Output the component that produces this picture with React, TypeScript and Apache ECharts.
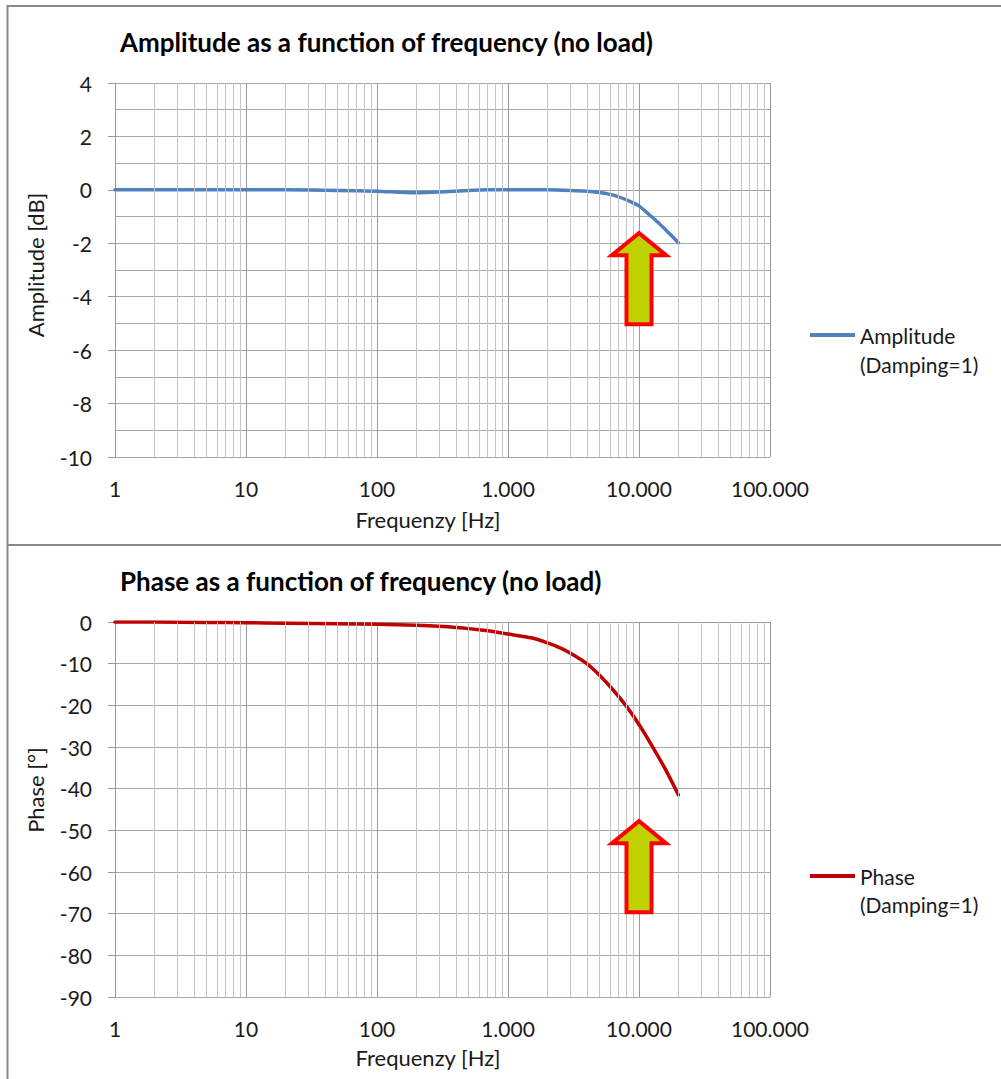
import React, { useEffect, useRef } from "react";
import * as echarts from "echarts";

const xTickLabels = ["1", "10", "100", "1.000", "10.000", "100.000"];
const ampFreq = [1, 2, 5, 10, 20, 50, 100, 150, 200, 300, 500, 700, 1000, 2000, 3000, 4000, 5000, 6000, 7000, 8000, 10000, 12000, 14000, 16000, 18000, 20000];
const ampValues = [0, 0, 0, 0, 0, -0.02, -0.05, -0.09, -0.11, -0.08, -0.02, 0, 0, 0, -0.02, -0.05, -0.1, -0.17, -0.26, -0.37, -0.6, -0.93, -1.22, -1.5, -1.75, -1.98];
const phaseFreq = [1, 2, 5, 10, 20, 50, 100, 200, 400, 700, 1000, 1500, 2000, 2500, 3000, 4000, 5000, 6300, 8000, 10000, 12500, 16000, 20000];
const phaseValues = [0, 0, -0.1, -0.15, -0.3, -0.4, -0.55, -0.8, -1.3, -2.1, -2.9, -3.8, -5, -6.2, -7.5, -10, -12.8, -16.2, -20.2, -24.6, -29.6, -35.5, -41.5];
const decades = [1, 10, 100, 1000, 10000];
const minorSteps = [2, 3, 4, 5, 6, 7, 8, 9];

const FONT = "Lato";
const TEXT = "#1a1a1a";
const BLUE = "#4F81BD";
const RED = "#C00000";
const LABEL_SIZE = 21;

export default function App() {
  const ref = useRef<HTMLDivElement>(null);
  useEffect(() => {
    if (!ref.current) return;
    const chart = echarts.init(ref.current, null, { renderer: "svg" });
    const minorLines: any[] = [];
    decades.forEach((d) => minorSteps.forEach((s) => minorLines.push({ xAxis: d * s })));

    const xAxisCommon = (gi: number) => ({
      type: "log",
      logBase: 10,
      gridIndex: gi,
      min: 1,
      max: 100000,
      axisLine: { show: true, lineStyle: { color: "#999999", width: 1 } },
      axisTick: { show: false },
      axisLabel: {
        margin: 21,
        fontFamily: FONT,
        fontSize: LABEL_SIZE,
        color: TEXT,
        formatter: (v: number) => xTickLabels[Math.round(Math.log10(v))] ?? "",
      },
      splitLine: { show: true, lineStyle: { color: "#999999", width: 1 } },
    });
    const yAxisCommon = (gi: number, min: number, max: number, interval: number, minor: boolean) => ({
      type: "value",
      gridIndex: gi,
      min,
      max,
      interval,
      axisLine: { show: true, lineStyle: { color: "#999999", width: 1 } },
      axisTick: { show: true, inside: false, length: 7, lineStyle: { color: "#999999" } },
      axisLabel: { margin: 23, fontFamily: FONT, fontSize: LABEL_SIZE, color: TEXT },
      splitLine: { show: true, lineStyle: { color: "#a8a8a8", width: 1 } },
      minorTick: { show: false, splitNumber: 2 },
      minorSplitLine: { show: minor, lineStyle: { color: "#a8a8a8", width: 1 } },
    });
    const gridSeries = (xi: number) => ({
      type: "line",
      xAxisIndex: xi,
      yAxisIndex: xi,
      data: [[1, 0]],
      showSymbol: false,
      silent: true,
      z: 1,
      lineStyle: { opacity: 0 },
      markLine: {
        silent: true,
        symbol: "none",
        label: { show: false },
        emphasis: { disabled: true },
        lineStyle: { color: "#c4c4c4", width: 1, type: "solid" },
        data: minorLines,
      },
    });

    chart.setOption({
      animation: false,
      backgroundColor: "#ffffff",
      title: [
        {
          text: "Amplitude as a function of frequency (no load)",
          left: 120,
          top: 29,
          padding: 0,
          textStyle: { fontFamily: FONT, fontSize: 26, fontWeight: "bold", color: "#000" },
        },
        {
          text: "Phase as a function of frequency (no load)",
          left: 120,
          top: 568,
          padding: 0,
          textStyle: { fontFamily: FONT, fontSize: 26, fontWeight: "bold", color: "#000" },
        },
      ],
      grid: [
        { left: 115, top: 83, width: 655, height: 374 },
        { left: 115, top: 622, width: 655, height: 375 },
      ],
      xAxis: [xAxisCommon(0), xAxisCommon(1)],
      yAxis: [yAxisCommon(0, -10, 4, 2, true), yAxisCommon(1, -90, 0, 10, false)],
      series: [
        gridSeries(0),
        gridSeries(1),
        {
          type: "line",
          name: "Amplitude (Damping=1)",
          xAxisIndex: 0,
          yAxisIndex: 0,
          z: 3,
          data: ampFreq.map((f, i) => [f, ampValues[i]]),
          showSymbol: false,
          smooth: 0.2,
          lineStyle: { color: BLUE, width: 3.5, join: "round", cap: "round" },
        },
        {
          type: "line",
          name: "Phase (Damping=1)",
          xAxisIndex: 1,
          yAxisIndex: 1,
          z: 3,
          data: phaseFreq.map((f, i) => [f, phaseValues[i]]),
          showSymbol: false,
          smooth: 0.2,
          lineStyle: { color: RED, width: 3.5, join: "round", cap: "round" },
        },
      ],
    });

    const arrow = (tip: number[]) => {
      const [tx, ty] = tip;
      return {
        type: "polygon",
        z: 10,
        shape: {
          points: [
            [tx, ty],
            [tx + 27, ty + 22],
            [tx + 12.5, ty + 22],
            [tx + 12.5, ty + 91],
            [tx - 12.5, ty + 91],
            [tx - 12.5, ty + 22],
            [tx - 27, ty + 22],
          ],
        },
        style: { fill: "#BFD200", stroke: "#FF0000", lineWidth: 4, lineJoin: "miter" },
      };
    };
    const tip1 = chart.convertToPixel({ gridIndex: 0 }, [10000, -1.62]) as number[];
    const tip2 = chart.convertToPixel({ gridIndex: 1 }, [10000, -47.8]) as number[];
    const txt = (text: string, x: number, y: number, size: number, extra: any = {}) => ({
      type: "text",
      x,
      y,
      z: 10,
      style: { text, fontFamily: FONT, fontSize: size, fill: TEXT, textVerticalAlign: "middle", verticalAlign: "middle", ...extra },
    });
    const frame = "#898989";
    const center = { align: "center", textAlign: "center" };
    chart.setOption({
      graphic: [
        { type: "line", shape: { x1: 7, y1: 6, x2: 1001, y2: 6 }, style: { stroke: frame, lineWidth: 2 } },
        { type: "line", shape: { x1: 7.5, y1: 5, x2: 7.5, y2: 1079 }, style: { stroke: frame, lineWidth: 2 } },
        { type: "line", shape: { x1: 7, y1: 545, x2: 1001, y2: 545 }, style: { stroke: frame, lineWidth: 2 } },
        arrow(tip1),
        arrow(tip2),
        { type: "line", shape: { x1: 810, y1: 335, x2: 855, y2: 335 }, style: { stroke: BLUE, lineWidth: 4 } },
        txt("Amplitude", 860, 335, 21),
        txt("(Damping=1)", 860, 364, 21),
        { type: "line", shape: { x1: 810, y1: 876, x2: 855, y2: 876 }, style: { stroke: RED, lineWidth: 4 } },
        txt("Phase", 860, 876, 21),
        txt("(Damping=1)", 860, 904, 21),
        txt("Frequenzy [Hz]", 428, 519, 22, center),
        txt("Frequenzy [Hz]", 428, 1057, 22, center),
        { ...txt("Amplitude [dB]", 35, 265, 22, center), rotation: Math.PI / 2 },
        { ...txt("Phase [°]", 35, 790, 22, center), rotation: Math.PI / 2 },
      ],
    });
    return () => chart.dispose();
  }, []);
  return <div ref={ref} style={{ position: "absolute", left: 0, top: 0, width: 1001, height: 1079 }} />;
}
